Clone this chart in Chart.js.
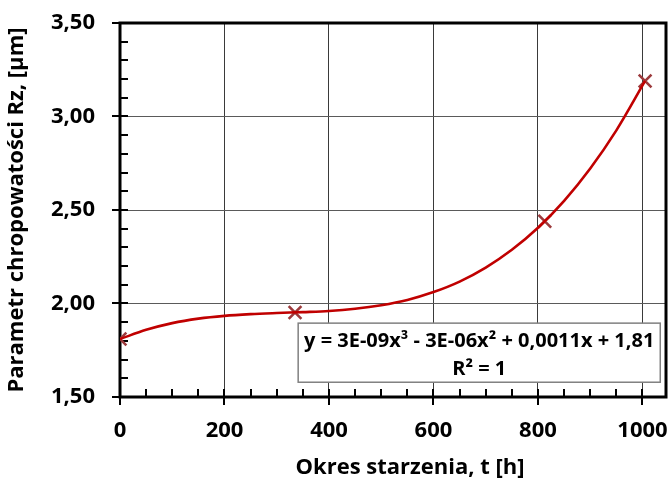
<!DOCTYPE html>
<html>
<head>
<meta charset="utf-8">
<script src="https://cdn.jsdelivr.net/npm/chart.js@4/dist/chart.umd.min.js"></script>
<style>
  html, body { margin: 0; padding: 0; background: #fff; }
  #wrap { width: 670px; height: 482px; }
</style>
</head>
<body>
<div id="wrap"><canvas id="c" width="670" height="482"></canvas></div>
<script>
// Measured points (ageing time [h], roughness Rz [µm])
const timeH = [0, 335, 813, 1005];
const rzValues = [1.81, 1.952, 2.44, 3.19];

// Trendline (3rd order polynomial)
const trendTime = [0, 50, 100, 150, 200, 250, 300, 350, 400, 450, 500, 550, 600, 650, 700, 750, 800, 850, 900, 950, 1005];
const trendRz = [1.81, 1.859, 1.895, 1.919, 1.934, 1.943, 1.949, 1.954, 1.960, 1.972, 1.991, 2.019, 2.061, 2.117, 2.192, 2.287, 2.405, 2.549, 2.722, 2.926, 3.19];

// Axis ticks
const xTickValues = [0, 200, 400, 600, 800, 1000];
const yTickValues = [1.5, 2.0, 2.5, 3.0, 3.5];

const xTitle = 'Okres starzenia, t [h]';
const yTitle = 'Parametr chropowatości Rz, [µm]';
const eqLines = ['y = 3E-09x³ - 3E-06x² + 0,0011x + 1,81', 'R² = 1'];

const FONT = '"Open Sans", "Liberation Sans", sans-serif';

function noPad(s) {
  s.paddingTop = 0; s.paddingBottom = 0; s.paddingLeft = 0; s.paddingRight = 0;
}

const framePlugin = {
  id: 'frame',
  beforeDatasetsDraw(chart) {
    const { ctx, chartArea: a, scales: { x, y } } = chart;
    ctx.save();
    ctx.strokeStyle = '#000';
    ctx.lineCap = 'butt';
    ctx.lineWidth = 2;
    ctx.beginPath();
    for (let v = 1.5; v <= 3.5001; v += 0.1) {
      const py = Math.round(y.getPixelForValue(v));
      const major = Math.abs(v * 2 - Math.round(v * 2)) < 1e-6;
      ctx.moveTo(major ? a.left - 8 : a.left, py);
      ctx.lineTo(a.left + 8, py);
    }
    for (let v = 0; v <= 1000; v += 50) {
      const px = Math.round(x.getPixelForValue(v));
      const major = v % 200 === 0;
      ctx.moveTo(px, major ? a.bottom + 8 : a.bottom);
      ctx.lineTo(px, a.bottom - 8);
    }
    ctx.stroke();
    ctx.lineWidth = 3;
    ctx.strokeRect(a.left, a.top, a.right - a.left, a.bottom - a.top);
    ctx.restore();
  },
  afterDraw(chart) {
    const { ctx, scales: { x, y } } = chart;
    ctx.save();
    const l = x.getPixelForValue(341), r = x.getPixelForValue(1034);
    const t = y.getPixelForValue(1.895), b = y.getPixelForValue(1.579);
    ctx.fillStyle = '#fff';
    ctx.fillRect(l, t, r - l, b - t);
    ctx.strokeStyle = '#808080';
    ctx.lineWidth = 1.5;
    ctx.strokeRect(l, t, r - l, b - t);
    ctx.fillStyle = '#000';
    ctx.font = 'bold 20px ' + FONT;
    ctx.textAlign = 'center';
    ctx.textBaseline = 'middle';
    const cx = (l + r) / 2;
    ctx.fillText(eqLines[0], cx, t + 18);
    ctx.fillText(eqLines[1], cx, t + 46);
    ctx.font = 'bold 22px ' + FONT;
    ctx.fillText(xTitle, 410, 468);
    ctx.restore();
  }
};

new Chart(document.getElementById('c'), {
  type: 'scatter',
  data: {
    datasets: [
      {
        label: 'trend',
        data: trendTime.map((t, i) => ({ x: t, y: trendRz[i] })),
        showLine: true,
        borderColor: '#c00000',
        borderWidth: 2.6,
        pointRadius: 0,
        cubicInterpolationMode: 'monotone',
        fill: false
      },
      {
        label: 'Rz',
        data: timeH.map((t, i) => ({ x: t, y: rzValues[i] })),
        showLine: false,
        pointStyle: 'crossRot',
        pointRadius: 9,
        pointBorderWidth: 2.6,
        borderColor: '#9c3a3c',
        backgroundColor: '#9c3a3c'
      }
    ]
  },
  options: {
    responsive: false,
    animation: false,
    events: [],
    layout: { autoPadding: false, padding: { left: 0, right: 4, top: 23, bottom: 0 } },
    plugins: { legend: { display: false }, tooltip: { enabled: false } },
    scales: {
      x: {
        type: 'linear',
        min: 0,
        max: 1045,
        afterFit(s) { s.height = 85; noPad(s); },
        afterBuildTicks(s) { s.ticks = xTickValues.map(v => ({ value: v })); },
        ticks: {
          includeBounds: false,
          padding: 21,
          color: '#000',
          font: { family: FONT, size: 22, weight: 'bold' },
          callback: v => String(v)
        },
        grid: {
          drawTicks: false,
          color: ctx => ctx.tick && ctx.tick.value === 0 ? 'rgba(0,0,0,0)' : '#3a3a3a',
          lineWidth: 1
        },
        border: { display: false },
        title: { display: false }
      },
      y: {
        type: 'linear',
        min: 1.5,
        max: 3.5,
        afterFit(s) { s.width = 120; noPad(s); },
        afterBuildTicks(s) { s.ticks = yTickValues.map(v => ({ value: v })); },
        ticks: {
          includeBounds: false,
          padding: 25,
          color: '#000',
          font: { family: FONT, size: 22, weight: 'bold' },
          callback: v => v.toFixed(2).replace('.', ',')
        },
        grid: {
          drawTicks: false,
          color: '#5a5a5a',
          lineWidth: 1
        },
        border: { display: false },
        title: {
          display: true,
          text: yTitle,
          color: '#000',
          font: { family: FONT, size: 22, weight: 'bold' },
          padding: { top: 4, bottom: 0 }
        }
      }
    }
  },
  plugins: [framePlugin]
});
</script>
</body>
</html>
